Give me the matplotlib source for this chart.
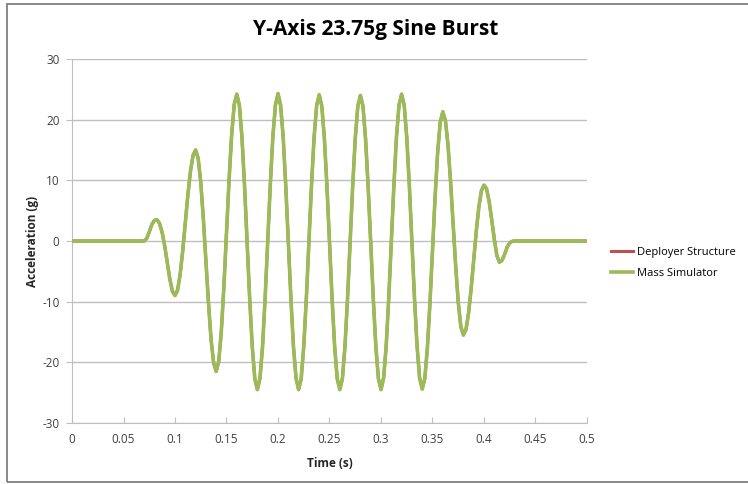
import matplotlib.pyplot as plt, numpy as np
from matplotlib.patches import Rectangle

plt.rcParams['font.family'] = ['Open Sans', 'DejaVu Sans']
plt.rcParams['axes.unicode_minus'] = False

dt = 0.0025  # sample spacing (s)

# acceleration samples (g) at every 0.0025 s from 0 to 0.5
burst = [
  0.0, 0.4, 1.5, 2.7, 3.4, 3.5, 2.9, 1.4, -0.8, -3.6, -6.3, -8.3, -9.0,
  -8.1, -5.5, -1.6, 3.0, 7.6, 11.5, 14.1, 15.0,
  13.6, 9.7, 3.7, -3.3, -10.2, -16.2, -20.1, -21.5,
  -19.8, -14.8, -7.4, 1.4, 10.1, 17.5, 22.5, 24.2,
  22.4, 17.1, 9.2, -0.2, -9.5, -17.4, -22.7, -24.5,
  -22.6, -17.4, -9.4, -0.1, 9.2, 17.2, 22.4, 24.3,
  22.4, 17.2, 9.2, -0.1, -9.4, -17.4, -22.6, -24.5,
  -22.7, -17.4, -9.5, -0.2, 9.1, 17.0, 22.3, 24.1,
  22.3, 17.0, 9.1, -0.2, -9.5, -17.4, -22.7, -24.5,
  -22.7, -17.4, -9.5, -0.3, 9.0, 16.9, 22.2, 24.0,
  22.2, 16.9, 9.0, -0.3, -9.5, -17.4, -22.7, -24.5,
  -22.6, -17.4, -9.5, -0.2, 9.1, 17.1, 22.4, 24.2,
  22.4, 17.1, 9.2, -0.1, -9.4, -17.3, -22.6, -24.4,
  -22.7, -17.7, -10.3, -1.6, 7.2, 14.6, 19.6, 21.3,
  19.9, 15.9, 9.9, 2.9, -4.1, -10.1, -14.1, -15.5,
  -14.6, -11.9, -7.9, -3.2, 1.6, 5.6, 8.3, 9.2,
  8.6, 6.5, 3.5, 0.3, -2.4, -3.5, -3.2, -2.2, -1.0, -0.3, -0.05, 0.0,
]
mass_sim = [0.0] * 28 + burst + [0.0] * 28
deployer = list(mass_sim)  # sits right under the mass simulator trace
t = np.arange(len(mass_sim)) * dt

x_ticks = [0, 0.05, 0.1, 0.15, 0.2, 0.25, 0.3, 0.35, 0.4, 0.45, 0.5]
x_labels = ["0", "0.05", "0.1", "0.15", "0.2", "0.25", "0.3", "0.35", "0.4", "0.45", "0.5"]
y_ticks = [-30, -20, -10, 0, 10, 20, 30]

fig = plt.figure(figsize=(7.48, 4.84), dpi=100)
ax = fig.add_axes([72/748, 61/484, 515/748, 364/484])

ax.plot(t, deployer, color='#C0504D', lw=2.2, label="Deployer Structure", zorder=3)
ax.plot(t, mass_sim, color='#9BBB59', lw=2.6, label="Mass Simulator", zorder=4)

ax.set_xlim(0, 0.5)
ax.set_ylim(-30, 30)
ax.set_xticks(x_ticks)
ax.set_xticklabels(x_labels)
ax.set_yticks(y_ticks)
ax.yaxis.grid(True, color='#BFBFBF', lw=1)
ax.set_axisbelow(True)
for s in ['top', 'right']:
  ax.spines[s].set_visible(False)
for s in ['left', 'bottom']:
  ax.spines[s].set_color('#BFBFBF')
ax.tick_params(colors='#BFBFBF', labelcolor='#404040', labelsize=8.5, length=4)
ax.tick_params(axis='x', direction='in', pad=7)
ax.tick_params(axis='y', pad=5)

ax.set_xlabel("Time (s)", fontsize=8.5, fontweight='bold', color='#262626', labelpad=8)
ax.set_ylabel("Acceleration (g)", fontsize=8.5, fontweight='bold', color='#262626', labelpad=2)
fig.text(376/748, 1 - 29/484, "Y-Axis 23.75g Sine Burst", ha='center', va='center',
         fontsize=15, fontweight='bold', color='#000000')

ax.legend(loc='center left', bbox_to_anchor=(1.035, 0.44), frameon=False, fontsize=8,
          handlelength=2.0, labelspacing=0.9, handletextpad=0.4, borderpad=0)

fig.patches.append(Rectangle((7/748, 2/484), 1.0, 478/484, transform=fig.transFigure,
                             fill=False, edgecolor='#7F7F7F', lw=1.3))

fig.savefig("out.png", dpi=100)
